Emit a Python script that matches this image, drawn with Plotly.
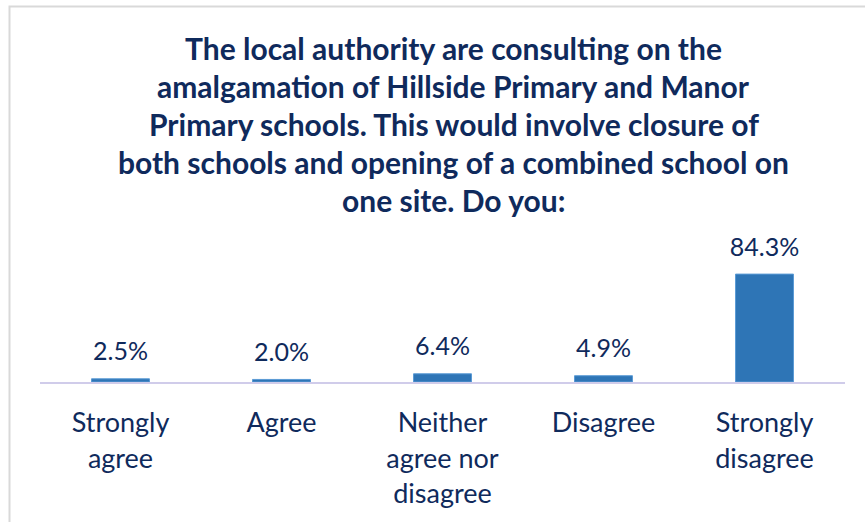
import plotly.graph_objects as go

categories = ["Strongly agree", "Agree", "Neither agree nor disagree", "Disagree", "Strongly disagree"]
tick_labels = ["Strongly<br>agree", "Agree", "Neither<br>agree nor<br>disagree", "Disagree", "Strongly<br>disagree"]
values = [2.5, 2.0, 6.4, 4.9, 84.3]
value_labels = ["2.5%", "2.0%", "6.4%", "4.9%", "84.3%"]
title_lines = [
    "The local authority are consulting on the",
    "amalgamation of Hillside Primary and Manor",
    "Primary schools. This would involve closure of",
    "both schools and opening of a combined school on",
    "one site. Do you:",
]

NAVY = "#0F2A5C"
BAR = "#2E75B6"
FONT = "Lato"

fig = go.Figure()
fig.add_trace(go.Bar(
    x=categories, y=values, width=0.36,
    marker=dict(color=BAR, line=dict(color="#5B9BD5", width=1)),
    hoverinfo="skip",
))
fig.add_trace(go.Scatter(
    x=categories, y=values, mode="markers+text",
    text=value_labels, textposition="top center",
    marker=dict(size=18, opacity=0),
    textfont=dict(family=FONT, size=25, color=NAVY),
    cliponaxis=False, hoverinfo="skip",
))

W, H = 865, 522
ml, mr, mb, mt = 40, 20, 140, 254
ph = H - mb - mt

title_centers = [48, 86, 124, 162, 200]
for line, yc in zip(title_lines, title_centers):
    fig.add_annotation(
        text="<b>" + line + "</b>", xref="paper", yref="paper",
        x=(454 - ml) / (W - ml - mr), y=(H - mb - yc) / ph,
        xanchor="center", yanchor="middle", showarrow=False,
        font=dict(family=FONT, size=30, color=NAVY),
    )

fig.add_shape(
    type="rect", xref="paper", yref="paper",
    x0=(9.5 - ml) / (W - ml - mr), x1=1.5,
    y0=-2, y1=(H - mb - 6.5) / ph,
    line=dict(color="#D9D9D9", width=2), layer="below",
)

fig.update_layout(
    width=W, height=H,
    margin=dict(l=ml, r=mr, t=mt, b=mb),
    paper_bgcolor="white", plot_bgcolor="white",
    showlegend=False,
    xaxis=dict(
        tickmode="array", tickvals=categories, ticktext=tick_labels,
        showline=True, linecolor="#D0CCEA", linewidth=2,
        ticks="", showgrid=False, zeroline=False,
        tickfont=dict(family=FONT, size=27, color=NAVY),
        ticklabelstandoff=16,
    ),
    yaxis=dict(range=[0, 100], visible=False, showgrid=False, zeroline=False),
)

fig.write_html(
    "out.html",
    config={"displayModeBar": False},
    post_script="document.body.style.margin='0';document.body.style.overflow='hidden';",
)
